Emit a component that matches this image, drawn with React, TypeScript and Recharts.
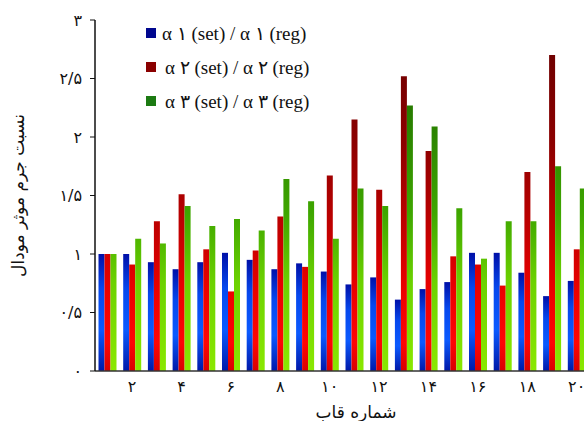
import React from 'react';
import { BarChart, Bar, XAxis, YAxis } from 'recharts';

const frames = [1, 2, 3, 4, 5, 6, 7, 8, 9, 10, 11, 12, 13, 14, 15, 16, 17, 18, 19, 20];
const frameLabels = ['۱', '۲', '۳', '۴', '۵', '۶', '۷', '۸', '۹', '۱۰', '۱۱', '۱۲', '۱۳', '۱۴', '۱۵', '۱۶', '۱۷', '۱۸', '۱۹', '۲۰'];

const alpha1 = [1.0, 1.0, 0.93, 0.87, 0.93, 1.01, 0.95, 0.87, 0.92, 0.85, 0.74, 0.8, 0.61, 0.7, 0.76, 1.01, 1.01, 0.84, 0.64, 0.77];
const alpha2 = [1.0, 0.91, 1.28, 1.51, 1.04, 0.68, 1.03, 1.32, 0.89, 1.67, 2.15, 1.55, 2.52, 1.88, 0.98, 0.91, 0.73, 1.7, 2.7, 1.04];
const alpha3 = [1.0, 1.13, 1.09, 1.41, 1.24, 1.3, 1.2, 1.64, 1.45, 1.13, 1.56, 1.41, 2.27, 2.09, 1.39, 0.96, 1.28, 1.28, 1.75, 1.56];

const yTicks = [0, 0.5, 1, 1.5, 2, 2.5, 3];
const yTickLabels = ['۰', '۰/۵', '۱', '۱/۵', '۲', '۲/۵', '۳'];

const seriesNames = ['α ۱ (set) / α ۱ (reg)', 'α ۲ (set) / α ۲ (reg)', 'α ۳ (set) / α ۳ (reg)'];
const legendColors = ['#00078f', '#8a0000', '#1c7a12'];

const data = frames.map((f, i) => ({
  frame: f,
  a1: alpha1[i],
  a2: alpha2[i],
  a3: alpha3[i],
}));

const persianFont = '"DejaVu Sans", sans-serif';

// legend drawn as a plain overlay so it doesn't eat plot space
const LegendBox = () => (
  <div
    style={{
      position: 'absolute',
      left: 146,
      top: 16,
      fontFamily: '"Liberation Serif", "DejaVu Serif", serif',
      fontSize: 19,
      color: '#111',
    }}
  >
    {seriesNames.map((name, i) => (
      <div key={name} style={{ display: 'flex', alignItems: 'center', height: 34 }}>
        <div style={{ width: 10, height: 10, background: legendColors[i], marginRight: i === 0 ? 6 : 9 }} />
        <span>{name}</span>
      </div>
    ))}
  </div>
);

export default function App() {
  return (
    <div style={{ width: 584, height: 421, overflow: 'hidden', position: 'relative', background: '#fff' }}>
      <style>{'html, body { margin: 0; padding: 0; overflow: hidden; }'}</style>
      <BarChart
        width={600}
        height={421}
        data={data}
        margin={{ top: 20, right: 11, bottom: 20, left: 35 }}
        barCategoryGap={3.5}
        barGap={0}
      >
        <defs>
          <linearGradient id="gBlue" x1="0" y1="0" x2="0" y2="1">
            <stop offset="0" stopColor="#0010a8" />
            <stop offset="0.3" stopColor="#0648ee" />
            <stop offset="0.65" stopColor="#0b5aff" />
            <stop offset="1" stopColor="#0018a8" />
          </linearGradient>
          <linearGradient id="gRed" gradientUnits="userSpaceOnUse" x1="0" y1="20" x2="0" y2="371">
            <stop offset="0" stopColor="#650000" />
            <stop offset="0.35" stopColor="#8c0000" />
            <stop offset="0.6" stopColor="#c20000" />
            <stop offset="0.78" stopColor="#ee0000" />
            <stop offset="0.92" stopColor="#ff0505" />
            <stop offset="1" stopColor="#d80000" />
          </linearGradient>
          <linearGradient id="gGreen" gradientUnits="userSpaceOnUse" x1="0" y1="20" x2="0" y2="371">
            <stop offset="0" stopColor="#1a5c00" />
            <stop offset="0.3" stopColor="#2a8200" />
            <stop offset="0.55" stopColor="#3ea600" />
            <stop offset="0.75" stopColor="#6cd200" />
            <stop offset="1" stopColor="#8ae800" />
          </linearGradient>
        </defs>
        <XAxis
          dataKey="frame"
          interval={0}
          tickLine={false}
          axisLine={{ stroke: '#333', strokeWidth: 1.5 }}
          height={30}
          tick={{ fontSize: 16, fill: '#111', fontFamily: persianFont }}
          tickMargin={4}
          tickFormatter={(v: number, i: number) => (i % 2 === 1 ? frameLabels[i] : '')}
          label={{ value: 'شماره قاب', position: 'bottom', dx: 14, dy: 0, fontSize: 17, fill: '#111', fontFamily: persianFont }}
        />
        <YAxis
          domain={[0, 3]}
          ticks={yTicks}
          width={60}
          tickSize={5}
          tickMargin={8}
          axisLine={{ stroke: '#111', strokeWidth: 1.5 }}
          tickLine={{ stroke: '#111' }}
          tick={{ fontSize: 16, fill: '#111', fontFamily: persianFont }}
          tickFormatter={(v: number, i: number) => yTickLabels[i]}
          label={{
            value: 'نسبت جرم موثر مودال',
            angle: -90,
            position: 'insideLeft',
            offset: 0,
            dx: -17,
            fontSize: 17,
            fill: '#111',
            fontFamily: persianFont,
            style: { textAnchor: 'middle' },
          }}
        />
        <Bar dataKey="a1" name={seriesNames[0]} fill="url(#gBlue)" isAnimationActive={false} />
        <Bar dataKey="a2" name={seriesNames[1]} fill="url(#gRed)" isAnimationActive={false} />
        <Bar dataKey="a3" name={seriesNames[2]} fill="url(#gGreen)" isAnimationActive={false} />
      </BarChart>
      <LegendBox />
    </div>
  );
}
